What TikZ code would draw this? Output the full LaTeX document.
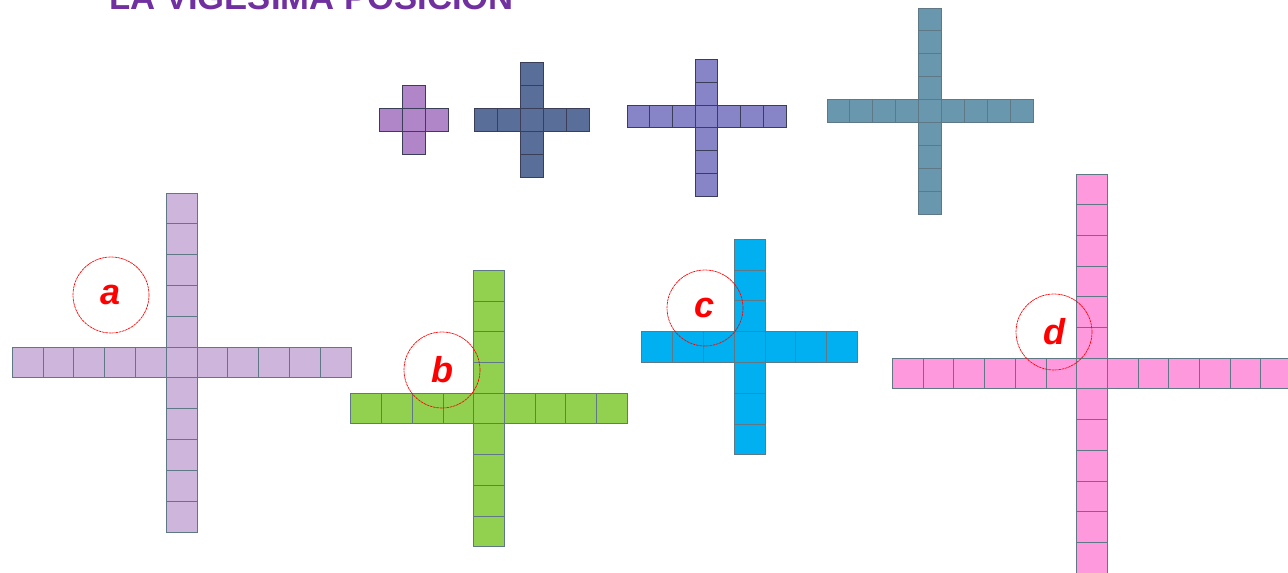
\documentclass[tikz,border=0pt]{standalone}
\usepackage{fontspec}
\setsansfont{Liberation Sans}
\definecolor{titlepurple}{RGB}{112,48,160}
\definecolor{onefill}{RGB}{176,134,200}
\definecolor{twofill}{RGB}{90,110,154}
\definecolor{threefill}{RGB}{135,132,199}
\definecolor{fourfill}{RGB}{104,151,174}
\definecolor{afill}{RGB}{205,181,219}
\definecolor{bfill}{RGB}{146,208,80}
\definecolor{cfill}{RGB}{0,176,240}
\definecolor{dfill}{RGB}{255,153,221}
\definecolor{gridsmall}{RGB}{58,62,88}
\definecolor{gridbig}{RGB}{94,121,133}
\begin{document}
\begin{tikzpicture}[x=0.75pt,y=0.75pt,yscale=-1,xscale=1,
	cell/.style={line width=0.6pt},
	labelring/.style={circle,draw=red,line width=0.5pt,dash pattern=on 2pt off 0.5pt,minimum size=57pt,inner sep=0pt,text=red,font=\sffamily\bfseries\itshape\fontsize{27}{27}\selectfont},
	headline/.style={anchor=base west,text=titlepurple,inner sep=0pt,font=\sffamily\bfseries\fontsize{26}{30}\selectfont}]
	\useasboundingbox (0,0) rectangle (1288,573);
	
	%Title (cut by the top edge)
	\node[headline] (title) at (109,10) {LA VIGÉSIMA POSICIÓN};
	
	%Crosses: centre x / centre y / cell / left / right / up / down / fill / grid
	\foreach \cx/\cy/\s/\lf/\rt/\up/\dn/\col/\grd in {
			413.5/119.5/23/1/1/1/1/onefill/gridsmall,
			531.5/119.5/23/2/2/2/2/twofill/gridsmall,
			706.5/116.5/22.7/3/3/2/3/threefill/gridsmall,
			930/111/22.9/4/4/4/4/fourfill/gridbig,
			181.5/362.5/30.8/5/5/5/5/afill/gridbig,
			489/408.5/30.7/4/4/4/4/bfill/gridbig,
			749.5/347/30.8/3/3/3/3/cfill/gridbig,
			1092/373.5/30.7/6/6/6/6/dfill/gridbig}{
		%horizontal arm
		\foreach \i in {-\lf,...,\rt}
			\draw [cell,draw=\grd,fill=\col] (\cx+\i*\s-0.5*\s,\cy-0.5*\s) rectangle ++(\s,\s) ;
		%vertical arm
		\foreach \j in {-\up,...,\dn}
			\draw [cell,draw=\grd,fill=\col] (\cx-0.5*\s,\cy+\j*\s-0.5*\s) rectangle ++(\s,\s) ;
	}
	
	%Answer rings
	\node[labelring] (ringa) at (111,295) {a};
	\node[labelring] (ringb) at (442,370) {b};
	\node[labelring] (ringc) at (705,308) {c};
	\node[labelring] (ringd) at (1054,332) {d};
\end{tikzpicture}
\end{document}
